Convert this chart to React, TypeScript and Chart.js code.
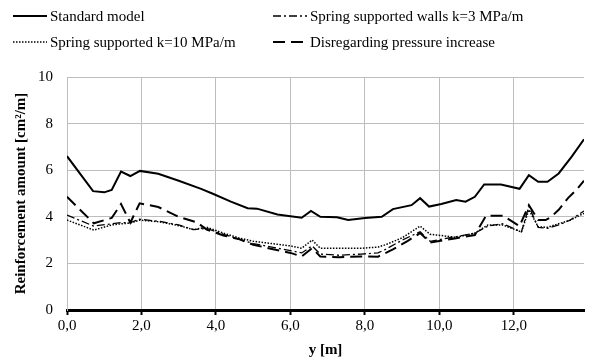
import React, { useEffect, useRef } from "react";
import { Chart, registerables } from "chart.js";
Chart.register(...registerables);

const FONT = "'Liberation Serif', 'Times New Roman', serif";

const seriesNames = [
  "Standard model",
  "Spring supported walls k=3 MPa/m",
  "Spring supported k=10 MPa/m",
  "Disregarding pressure increase",
];

const xStandard = [0, 0.7, 1.0, 1.2, 1.45, 1.7, 1.96, 2.45, 3.0, 3.6, 3.9, 4.4, 4.85, 5.1, 5.65, 6.3, 6.55, 6.8, 7.25, 7.55, 8.0, 8.45, 8.75, 9.25, 9.48, 9.72, 10.05, 10.45, 10.7, 10.95, 11.2, 11.65, 12.15, 12.4, 12.65, 12.9, 13.2, 13.55, 13.88];
const yStandard = [6.6, 5.1, 5.05, 5.15, 5.94, 5.75, 5.97, 5.85, 5.55, 5.2, 5.0, 4.65, 4.37, 4.35, 4.1, 3.96, 4.25, 4.0, 3.98, 3.86, 3.95, 4.0, 4.33, 4.5, 4.8, 4.44, 4.55, 4.72, 4.65, 4.86, 5.39, 5.39, 5.2, 5.79, 5.5, 5.5, 5.86, 6.58, 7.33];

const xSpring = [0, 0.72, 1.2, 1.45, 1.7, 1.95, 2.5, 3.0, 3.4, 3.75, 4.2, 4.6, 5.0, 5.5, 6.0, 6.3, 6.58, 6.8, 7.3, 7.9, 8.35, 8.55, 9.0, 9.48, 9.75, 10.45, 10.95, 11.3, 11.7, 12.2, 12.4, 12.65, 12.9, 13.2, 13.5, 13.88];
const ySpring3 = [4.07, 3.6, 3.7, 3.75, 3.75, 3.9, 3.8, 3.65, 3.45, 3.5, 3.25, 3.05, 2.85, 2.7, 2.55, 2.45, 2.75, 2.4, 2.35, 2.4, 2.45, 2.6, 3.0, 3.36, 2.95, 3.15, 3.3, 3.6, 3.7, 3.35, 4.45, 3.55, 3.5, 3.65, 3.85, 4.25];
const ySpring10 = [3.86, 3.43, 3.65, 3.7, 3.73, 3.86, 3.78, 3.62, 3.45, 3.55, 3.3, 3.1, 2.95, 2.85, 2.75, 2.65, 3.0, 2.65, 2.65, 2.65, 2.7, 2.8, 3.1, 3.6, 3.25, 3.12, 3.3, 3.65, 3.65, 3.35, 4.3, 3.57, 3.55, 3.7, 3.85, 4.15];

const xDisregard = [0, 0.72, 1.2, 1.45, 1.7, 1.95, 2.45, 3.0, 3.5, 3.75, 4.2, 4.6, 5.0, 5.5, 6.0, 6.3, 6.58, 6.8, 7.3, 7.9, 8.35, 8.75, 9.15, 9.48, 9.75, 10.45, 10.95, 11.25, 11.7, 12.15, 12.4, 12.65, 12.85, 13.0, 13.2, 13.45, 13.7, 13.88];
const yDisregard = [4.86, 3.72, 3.95, 4.55, 3.75, 4.58, 4.42, 4.0, 3.75, 3.45, 3.2, 3.05, 2.8, 2.62, 2.45, 2.3, 2.65, 2.3, 2.26, 2.3, 2.29, 2.6, 2.97, 3.3, 2.9, 3.08, 3.22, 4.05, 4.05, 3.6, 4.5, 3.86, 3.86, 4.0, 4.3, 4.8, 5.2, 5.55];

const xMax = 13.88;
const yMin = 0;
const yMax = 10;
const xStep = 2;
const yStep = 2;

const xTitle = "y [m]";
const yTitle = "Reinforcement amount [cm\u00b2/m]";

const dashes: number[][] = [[], [8, 3, 2, 3], [1.5, 1.5], [12, 6]];
const widths = [2, 1.3, 1.5, 2];

export default function App() {
  const ref = useRef<HTMLCanvasElement>(null);
  useEffect(() => {
    document.body.style.margin = "0";
    const pts = (xs: number[], ys: number[]) => xs.map((x, i) => ({ x, y: ys[i] }));
    const dataSets = [
      pts(xStandard, yStandard),
      pts(xSpring, ySpring3),
      pts(xSpring, ySpring10),
      pts(xDisregard, yDisregard),
    ];
    const legendPlugin = {
      id: "customLegend",
      afterDraw(chart: any) {
        const ctx = chart.ctx as CanvasRenderingContext2D;
        const pos = [
          { x: 13, y: 16 },
          { x: 273, y: 16 },
          { x: 13, y: 42 },
          { x: 273, y: 42 },
        ];
        ctx.save();
        ctx.font = `15px ${FONT}`;
        ctx.fillStyle = "#000";
        ctx.textBaseline = "middle";
        seriesNames.forEach((name, i) => {
          const p = pos[i];
          ctx.beginPath();
          ctx.setLineDash(dashes[i]);
          ctx.lineWidth = widths[i];
          ctx.strokeStyle = "#000";
          ctx.moveTo(p.x, p.y);
          ctx.lineTo(p.x + 34, p.y);
          ctx.stroke();
          ctx.setLineDash([]);
          ctx.fillText(name, p.x + 37, p.y + 1);
        });
        ctx.restore();
      },
    };
    const chart = new Chart(ref.current as HTMLCanvasElement, {
      type: "scatter",
      data: {
        datasets: dataSets.map((d, i) => ({
          label: seriesNames[i],
          data: d,
          showLine: true,
          borderColor: "#000",
          backgroundColor: "#000",
          borderWidth: widths[i],
          borderDash: dashes[i],
          pointRadius: 0,
          tension: 0,
          fill: false,
        })),
      },
      options: {
        responsive: false,
        animation: false,
        events: [],
        layout: { padding: { top: 77, right: 21, left: 8, bottom: 2 } },
        plugins: { legend: { display: false }, tooltip: { enabled: false } },
        scales: {
          x: {
            type: "linear",
            min: 0,
            max: xMax,
            afterBuildTicks: (s: any) => {
              s.ticks = s.ticks.filter((t: any) => Math.abs(t.value / xStep - Math.round(t.value / xStep)) < 1e-6);
            },
            afterFit: (s: any) => {
              s.height = 364 - 310 - 2;
            },
            ticks: {
              stepSize: xStep,
              color: "#000",
              font: { family: FONT, size: 15 },
              padding: 2,
              callback: (v: any) => Number(v).toFixed(1).replace(".", ","),
            },
            grid: { color: "#bdbdbd", lineWidth: 1, tickColor: "#000", tickLength: 5, tickWidth: 2 },
            border: { color: "#000", width: 3 },
            title: {
              display: true,
              text: xTitle,
              color: "#000",
              font: { family: FONT, size: 15, weight: "bold" },
              padding: { top: 4, bottom: 3 },
            },
          },
          y: {
            min: yMin,
            max: yMax,
            afterFit: (s: any) => {
              s.width = 67 - 8;
            },
            ticks: {
              stepSize: yStep,
              color: "#000",
              font: { family: FONT, size: 15 },
              padding: 14,
            },
            grid: { color: "#bdbdbd", lineWidth: 1, drawTicks: false },
            border: { color: "#bdbdbd", width: 1 },
            title: {
              display: true,
              text: yTitle,
              color: "#000",
              font: { family: FONT, size: 15, weight: "bold" },
              padding: { top: 4, bottom: 4 },
            },
          },
        },
      },
      plugins: [legendPlugin],
    });
    return () => chart.destroy();
  }, []);
  return (
    <div style={{ width: 605, height: 364 }}>
      <canvas ref={ref} width={605} height={364} style={{ display: "block" }} />
    </div>
  );
}
